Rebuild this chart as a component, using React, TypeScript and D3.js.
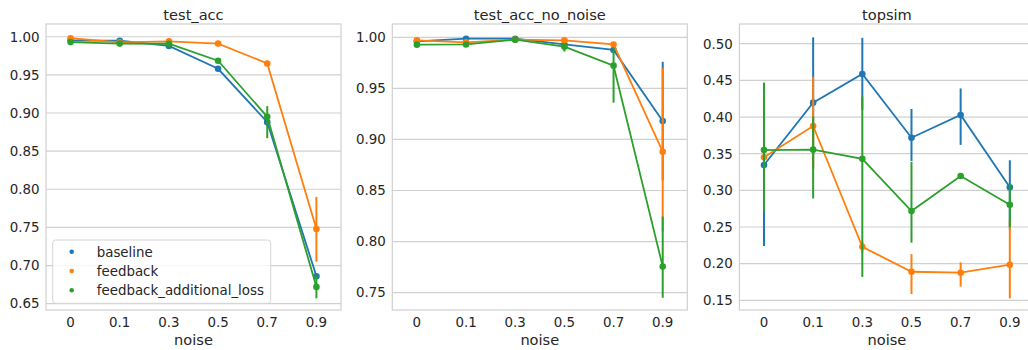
import React from "react";
import * as d3 from "d3";

const noiseLevels = ["0", "0.1", "0.3", "0.5", "0.7", "0.9"];
const seriesNames = ["baseline", "feedback", "feedback_additional_loss"];
const seriesColors = ["#1f77b4", "#ff7f0e", "#2ca02c"];
const panelTitles = ["test_acc", "test_acc_no_noise", "topsim"];

// test_acc
const accBaseline = [0.995, 0.9948, 0.988, 0.958, 0.888, 0.686];
const accBaselineLo = [0.994, 0.994, 0.986, 0.955, 0.883, 0.683];
const accBaselineHi = [0.996, 0.9955, 0.99, 0.961, 0.893, 0.689];
const accFeedback = [0.998, 0.9926, 0.994, 0.991, 0.965, 0.748];
const accFeedbackLo = [0.997, 0.992, 0.993, 0.99, 0.964, 0.705];
const accFeedbackHi = [0.999, 0.993, 0.995, 0.992, 0.966, 0.79];
const accAddLoss = [0.993, 0.991, 0.9908, 0.9685, 0.895, 0.672];
const accAddLossLo = [0.991, 0.99, 0.989, 0.967, 0.867, 0.657];
const accAddLossHi = [0.995, 0.992, 0.992, 0.97, 0.909, 0.687];

// test_acc_no_noise
const nnBaseline = [0.996, 0.9986, 0.9986, 0.993, 0.9876, 0.918];
const nnBaselineLo = [0.995, 0.998, 0.998, 0.992, 0.986, 0.86];
const nnBaselineHi = [0.997, 0.999, 0.999, 0.994, 0.989, 0.976];
const nnFeedback = [0.997, 0.995, 0.9977, 0.997, 0.993, 0.888];
const nnFeedbackLo = [0.996, 0.994, 0.997, 0.996, 0.992, 0.81];
const nnFeedbackHi = [0.998, 0.996, 0.998, 0.998, 0.994, 0.97];
const nnAddLoss = [0.9928, 0.993, 0.9977, 0.9908, 0.9722, 0.7756];
const nnAddLossLo = [0.992, 0.992, 0.997, 0.986, 0.936, 0.745];
const nnAddLossHi = [0.994, 0.994, 0.998, 0.994, 0.99, 0.8245];

// topsim
const tsBaseline = [0.3346, 0.4196, 0.4587, 0.3718, 0.4028, 0.3042];
const tsBaselineLo = [0.224, 0.33, 0.41, 0.34, 0.362, 0.246];
const tsBaselineHi = [0.4, 0.5087, 0.508, 0.411, 0.439, 0.341];
const tsFeedback = [0.345, 0.3878, 0.223, 0.189, 0.1877, 0.1986];
const tsFeedbackLo = [0.33, 0.33, 0.215, 0.1586, 0.1686, 0.1527];
const tsFeedbackHi = [0.36, 0.455, 0.23, 0.213, 0.2018, 0.26];
const tsAddLoss = [0.355, 0.3555, 0.343, 0.2718, 0.3196, 0.2804];
const tsAddLossLo = [0.271, 0.289, 0.182, 0.2286, 0.317, 0.25];
const tsAddLossHi = [0.447, 0.4005, 0.428, 0.339, 0.322, 0.31];

const accTicks = [0.65, 0.7, 0.75, 0.8, 0.85, 0.9, 0.95, 1.0];
const nnTicks = [0.75, 0.8, 0.85, 0.9, 0.95, 1.0];
const tsTicks = [0.15, 0.2, 0.25, 0.3, 0.35, 0.4, 0.45, 0.5];

const panels = [
  {
    title: panelTitles[0],
    domain: [0.6417, 1.0167],
    ticks: accTicks,
    means: [accBaseline, accFeedback, accAddLoss],
    lo: [accBaselineLo, accFeedbackLo, accAddLossLo],
    hi: [accBaselineHi, accFeedbackHi, accAddLossHi],
    left: 46,
    legend: true,
  },
  {
    title: panelTitles[1],
    domain: [0.733, 1.013],
    ticks: nnTicks,
    means: [nnBaseline, nnFeedback, nnAddLoss],
    lo: [nnBaselineLo, nnFeedbackLo, nnAddLossLo],
    hi: [nnBaselineHi, nnFeedbackHi, nnAddLossHi],
    left: 392.3,
    legend: false,
  },
  {
    title: panelTitles[2],
    domain: [0.1368, 0.5269],
    ticks: tsTicks,
    means: [tsBaseline, tsFeedback, tsAddLoss],
    lo: [tsBaselineLo, tsFeedbackLo, tsAddLossLo],
    hi: [tsBaselineHi, tsFeedbackHi, tsAddLossHi],
    left: 739.4,
    legend: false,
  },
];

const W = 1028;
const H = 350;
const PW = 295;
const TOP = 24;
const BOTTOM = 310;
const TEXT = "#262626";
const GRID = "#d0d0d0";
const FONT = "DejaVu Sans, sans-serif";

function Panel({ p }: { p: (typeof panels)[number] }) {
  const x = d3.scalePoint<string>().domain(noiseLevels).range([p.left, p.left + PW]).padding(0.5);
  const y = d3.scaleLinear().domain(p.domain).range([BOTTOM, TOP]);
  const fmt = d3.format(".2f");
  const line = d3
    .line<number>()
    .x((_, i) => x(noiseLevels[i]) as number)
    .y((d) => y(d));
  return (
    <g>
      {p.ticks.map((t) => (
        <g key={t}>
          <line x1={p.left} x2={p.left + PW} y1={y(t)} y2={y(t)} stroke={GRID} strokeWidth={1.2} />
          <text x={p.left - 6.5} y={y(t)} dy="0.36em" textAnchor="end" fontSize={13.4} fill={TEXT}>
            {fmt(t)}
          </text>
        </g>
      ))}
      <rect x={p.left} y={TOP} width={PW} height={BOTTOM - TOP} fill="none" stroke={GRID} strokeWidth={1.2} />
      {noiseLevels.map((n) => (
        <text key={n} x={x(n)} y={326.5} textAnchor="middle" fontSize={13.4} fill={TEXT}>
          {n}
        </text>
      ))}
      <text x={p.left + PW / 2} y={345} textAnchor="middle" fontSize={14.6} fill={TEXT}>
        noise
      </text>
      <text x={p.left + PW / 2} y={19.5} textAnchor="middle" fontSize={14.6} fill={TEXT}>
        {p.title}
      </text>
      {p.means.map((m, si) => (
        <g key={si}>
          {m.map((_, i) => (
            <line
              key={i}
              x1={x(noiseLevels[i])}
              x2={x(noiseLevels[i])}
              y1={y(p.lo[si][i])}
              y2={y(p.hi[si][i])}
              stroke={seriesColors[si]}
              strokeWidth={2}
            />
          ))}
          <path d={line(m) || ""} fill="none" stroke={seriesColors[si]} strokeWidth={1.8} />
          {m.map((v, i) => (
            <circle key={i} cx={x(noiseLevels[i])} cy={y(v)} r={3.3} fill={seriesColors[si]} />
          ))}
        </g>
      ))}
      {p.legend && (
        <g>
          <rect x={52.7} y={240} width={218} height={63.3} rx={3} fill="white" fillOpacity={0.8} stroke="#d6d6d6" strokeWidth={1} />
          {seriesNames.map((s, i) => (
            <g key={s}>
              <circle cx={71.7} cy={251.7 + i * 19.3} r={2.3} fill={seriesColors[i]} />
              <text x={96.7} y={251.7 + i * 19.3} dy="0.36em" fontSize={13.4} fill={TEXT}>
                {s}
              </text>
            </g>
          ))}
        </g>
      )}
    </g>
  );
}

export default function App() {
  return (
    <svg
      width={W}
      height={H}
      style={{ position: "absolute", left: 0, top: 0, background: "white" }}
      fontFamily={FONT}
    >
      <rect x={0} y={0} width={W} height={H} fill="white" />
      {panels.map((p) => (
        <Panel key={p.title} p={p} />
      ))}
    </svg>
  );
}
